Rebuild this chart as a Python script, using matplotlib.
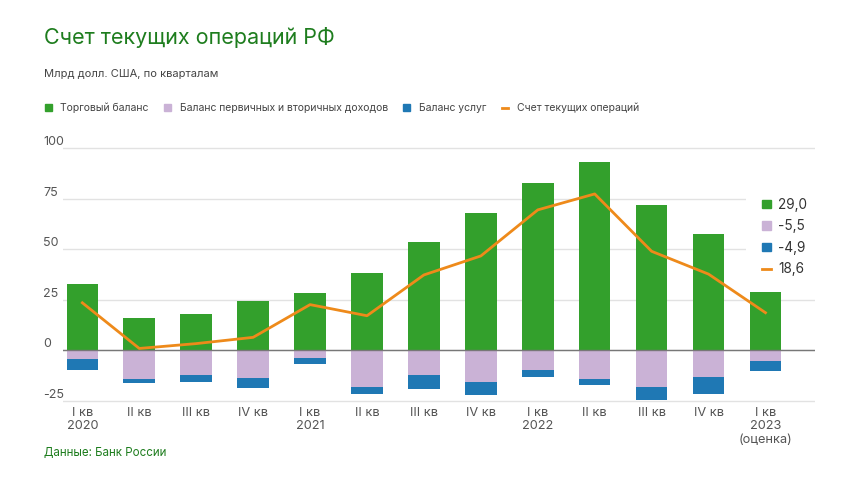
import numpy as np
import matplotlib
matplotlib.use('Agg')
import matplotlib.pyplot as plt
from matplotlib.patches import Patch
from matplotlib.lines import Line2D

plt.rcParams['font.family'] = ['Inter', 'DejaVu Sans']

# ── Data (млрд долл. США) ───────────────────────────────────────────
quarters = ['I кв\n2020', 'II кв', 'III кв', 'IV кв',
            'I кв\n2021', 'II кв', 'III кв', 'IV кв',
            'I кв\n2022', 'II кв', 'III кв', 'IV кв',
            'I кв\n2023\n(оценка)']
trade    = [32.9, 15.8, 17.9, 24.4, 28.2, 38.4, 53.5, 67.8, 82.7, 93.4, 72.0, 57.6, 29.0]
income   = [-4.5, -14.0, -12.2, -13.5, -3.9, -18.0, -12.3, -15.8, -10.0, -14.0, -18.0, -13.3, -5.5]
services = [-5.2, -2.3, -3.3, -5.3, -2.8, -3.8, -7.0, -6.2, -3.3, -3.3, -6.6, -8.3, -4.9]
current  = [23.5, 0.9, 3.3, 6.4, 22.6, 17.1, 37.3, 46.7, 69.5, 77.4, 49.0, 37.7, 18.6]
yticks   = [-25, 0, 25, 50, 75, 100]

names = ['Торговый баланс', 'Баланс первичных и вторичных доходов',
         'Баланс услуг', 'Счет текущих операций']

GREEN, LILAC, BLUE, ORANGE = '#33a02c', '#cab2d6', '#1f78b4', '#ee8a1a'
DARKGREEN = '#1e7d1e'
GREY = '#555555'

fig = plt.figure(figsize=(8.6, 4.84), dpi=100)
ax = fig.add_axes([63/860, 0.1678, (815-63)/860, 0.5467])
ax.set_axisbelow(True)

x = np.arange(len(quarters))
w = 0.555
ax.bar(x, trade, w, color=GREEN, zorder=2)
ax.bar(x, income, w, color=LILAC, zorder=2)
ax.bar(x, services, w, bottom=income, color=BLUE, zorder=2)
ax.plot(x, current, color=ORANGE, lw=2.0, zorder=3)

ax.set_xlim(-0.34, 12.87)
ax.set_ylim(-26, 105)
ax.set_yticks(yticks)
ax.set_yticklabels([str(v) for v in yticks])
ax.grid(axis='y', color='#e2e2e2', lw=1.0)
ax.axhline(0, color='#777777', lw=1.0, zorder=2.5)
for s in ax.spines.values():
    s.set_visible(False)
ax.tick_params(axis='y', length=0, pad=14.4, labelsize=9, labelcolor=GREY)
for lab in ax.get_yticklabels():
    lab.set_ha('left')
    lab.set_va('bottom')
ax.set_xticks(x)
ax.set_xticklabels(quarters, fontsize=9.2, color=GREY, linespacing=1.15)
ax.tick_params(axis='x', length=0, pad=3)

# right-hand legend with latest values (white box hides gridlines only)
fmt = lambda v: f'{v:.1f}'.replace('.', ',')
h_right = [Patch(color=GREEN), Patch(color=LILAC), Patch(color=BLUE),
           Line2D([], [], color=ORANGE, lw=2)]
leg = ax.legend(h_right, [fmt(trade[-1]), fmt(income[-1]), fmt(services[-1]), fmt(current[-1])],
                loc='center left', bbox_to_anchor=(746/860, 1-237/484),
                bbox_transform=fig.transFigure, frameon=True, fontsize=9.8,
                handlelength=0.6, handleheight=0.6, handletextpad=0.55,
                labelspacing=0.55, borderpad=1.2, borderaxespad=0)
leg.get_frame().set_facecolor('white')
leg.get_frame().set_edgecolor('none')
leg.get_frame().set_alpha(1)
leg.set_zorder(1)
for t in leg.get_texts():
    t.set_color('#333333')

# top legend
h_top = [Patch(color=GREEN), Patch(color=LILAC), Patch(color=BLUE),
         Line2D([], [], color=ORANGE, lw=2)]
fig.legend(h_top, names, loc='center left', bbox_to_anchor=(36/860, 1-108/484),
           ncol=4, frameon=False, fontsize=7.5, handlelength=0.65, handleheight=0.65,
           handletextpad=0.8, columnspacing=1.5, labelcolor='#444444')

fig.text(44/860, 1-38/484, 'Счет текущих операций РФ', fontsize=15.5,
         color=DARKGREEN, va='center', ha='left')
fig.text(44/860, 1-74/484, 'Млрд долл. США, по кварталам', fontsize=8.0,
         color='#444444', va='center', ha='left')
fig.text(44/860, 1-453/484, 'Данные: Банк России', fontsize=8.3,
         color=DARKGREEN, va='center', ha='left')

fig.savefig('out.png', dpi=100, facecolor='white')
